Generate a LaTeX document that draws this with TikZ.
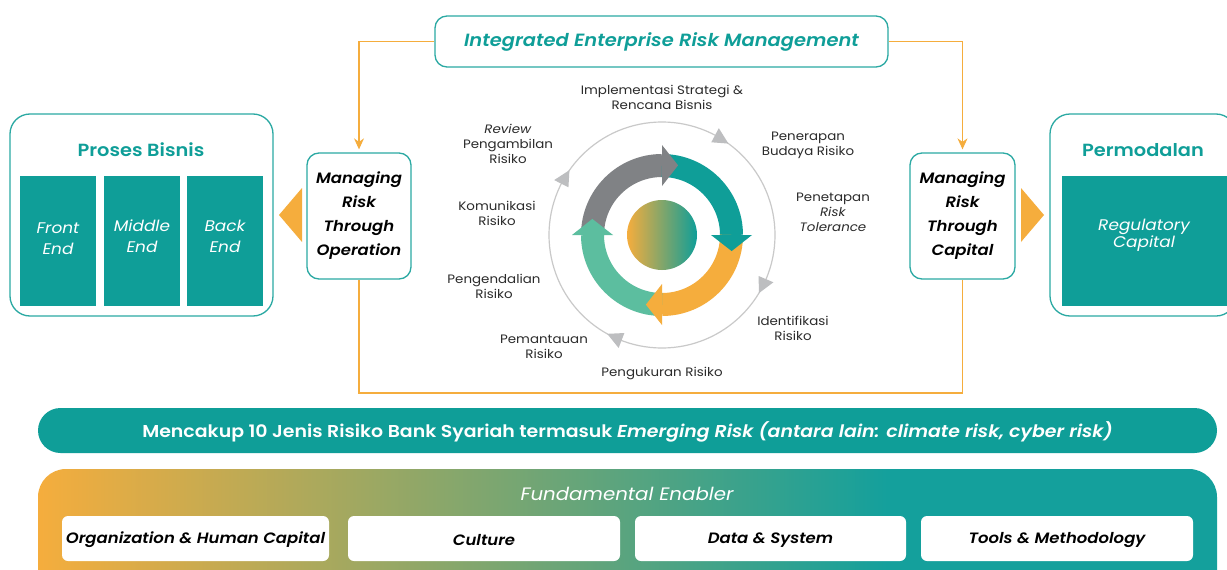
\documentclass[tikz,border=0pt]{standalone}
\usepackage{fontspec}
\setmainfont{Poppins}[FakeStretch=1.1,BoldFont={Poppins SemiBold},BoldItalicFont={Poppins SemiBold Italic}]
\usetikzlibrary{arrows.meta}
\definecolor{teal1}{HTML}{0F9E98}
\definecolor{teal2}{HTML}{14A09C}
\definecolor{tealb}{HTML}{2BA9A3}
\definecolor{orng}{HTML}{F5AD3D}
\definecolor{gry}{HTML}{808285}
\definecolor{grn}{HTML}{5CBE9F}
\definecolor{lgry}{HTML}{BDBEC0}
\definecolor{circ}{HTML}{C9C9C9}
\definecolor{txt}{HTML}{2B2B2B}
\pgfdeclarehorizontalshading{enab}{100bp}{color(0bp)=(orng); color(25bp)=(orng); color(61bp)=(teal2); color(100bp)=(teal2)}
\tikzset{
  obox/.style={draw=tealb, line width=1.3pt, rounded corners=20pt, fill=white, inner sep=0pt},
  mbox/.style={draw=tealb, line width=1.3pt, rounded corners=12pt, fill=white, align=center, inner sep=0pt, text=black, font=\fontsize{15}{24}\selectfont\bfseries\itshape},
  tbox/.style={fill=teal1, inner sep=0pt, align=center, text=white, font=\fontsize{15.4}{21}\selectfont\itshape},
  ttl/.style={text=teal1, font=\fontsize{17.6}{20}\selectfont\bfseries},
  clab/.style={align=center, text=txt, font=\fontsize{12.2}{15}\selectfont},
  oline/.style={draw=orng, line width=1.1pt},
  ebox/.style={fill=white, rounded corners=6pt, minimum height=45pt, inner sep=0pt, text=black, font=\fontsize{15}{18}\selectfont\bfseries\itshape},
  ring/.style={line width=23pt},
}
\begin{document}
\begin{tikzpicture}[x=1pt,y=-1pt]
\useasboundingbox (0,0) rectangle (1227,570);
\clip (0,0) rectangle (1227,570);
\fill[white] (0,0) rectangle (1227,570);

% top box
\node[mbox, minimum width=453pt, minimum height=51pt, text=teal1, font=\fontsize{17.7}{20}\selectfont\bfseries\itshape] (ierm) at (661.5,41.5) {Integrated Enterprise Risk Management};

% managing boxes
\node[mbox, minimum width=104pt, minimum height=126pt] (mrto) at (359,216) {Managing\\Risk\\Through\\Operation};
\node[mbox, minimum width=105pt, minimum height=126pt] (mrtc) at (962.5,216) {Managing\\Risk\\Through\\Capital};

% orange connectors
\draw[oline, -{Stealth[length=11pt,width=10pt]}, shorten >=3pt] (ierm.west) -| (mrto.north);
\draw[oline, -{Stealth[length=11pt,width=10pt]}, shorten >=3pt] (ierm.east) -| (mrtc.north);
\coordinate (bl) at (359,393);
\draw[oline] (mrto.south) -- (bl) -| (mrtc.south);

% Proses Bisnis
\node[obox, minimum width=263pt, minimum height=202pt] (pb) at (141.5,215) {};
\node[ttl] (pbt) at (141,150) {Proses Bisnis};
\node[tbox, minimum width=76pt, minimum height=130pt] (fe) at (58,241) {};
\node[tbox, minimum width=76pt, minimum height=130pt] (me) at (142,241) {};
\node[tbox, minimum width=76pt, minimum height=130pt] (be) at (225,241) {};
\node[tbox, fill=none] (fet1) at (58,238.5) {Front\\End};
\node[tbox, fill=none] (met1) at (142,236.5) {Middle\\End};
\node[tbox, fill=none] (bet1) at (225,236.5) {Back\\End};
\fill[orng] (302,188) -- (279,215) -- (302,242) -- cycle;

% Permodalan
\node[obox, minimum width=186pt, minimum height=202pt] (pm) at (1143,215) {};
\node[ttl] (pmt) at (1143,150) {Permodalan};
\node[tbox, minimum width=168pt, minimum height=130pt] (rc) at (1146,241) {};
\node[text=white, align=center, font=\fontsize{15.4}{17}\selectfont\itshape] (rct) at (1144,235.5) {Regulatory\\Capital};
\fill[orng] (1021,188) -- (1044,215) -- (1021,242) -- cycle;

% cycle
\begin{scope}[shift={(662,235)}, x=1pt, y=1pt]
  \draw[circ, line width=1.2pt] (0,0) circle[radius=113];
  \foreach \a in {58,-27,-115,149}{
    \fill[lgry] (\a+4:105) -- (\a+4:121) -- (\a-4:113) -- cycle;
  }
  \draw[ring, gry] (180:69.5) arc[start angle=180, end angle=90, radius=69.5];
  \draw[ring, teal1] (90:69.5) arc[start angle=90, end angle=0, radius=69.5];
  \draw[ring, orng] (0:69.5) arc[start angle=0, end angle=-90, radius=69.5];
  \draw[ring, grn] (-90:69.5) arc[start angle=-90, end angle=-180, radius=69.5];
  \fill[gry] (90:49) -- (90:90) -- (77:71.5) -- cycle;
  \fill[teal1] (0:49) -- (0:90) -- (-13:71.5) -- cycle;
  \fill[orng] (-90:49) -- (-90:90) -- (-103:71.5) -- cycle;
  \fill[grn] (180:49) -- (180:90) -- (167:71.5) -- cycle;
  \shade[left color=orng, right color=teal1] (0,0) circle[radius=35];
\end{scope}

% cycle labels
\node[clab] (l1) at (662,97) {Implementasi Strategi \&\\Rencana Bisnis};
\node[clab] (l2) at (808,145) {Penerapan\\Budaya Risiko};
\node[clab] (l3) at (833,212) {Penetapan\\\textit{Risk}\\\textit{Tolerance}};
\node[clab] (l4) at (793,328) {Identifikasi\\Risiko};
\node[clab] (l5) at (662,374) {Pengukuran Risiko};
\node[clab] (l6) at (544,347) {Pemantauan\\Risiko};
\node[clab] (l7) at (494,286) {Pengendalian\\Risiko};
\node[clab] (l8) at (497,213) {Komunikasi\\Risiko};
\node[clab] (l9) at (508,144) {\textit{Review}\\Pengambilan\\Risiko};

% risk bar
\node[fill=teal1, rounded corners=22.5pt, minimum width=1179pt, minimum height=45pt, inner sep=0pt] (bar) at (627.5,430.5) {};
\node[text=white, inner sep=0pt, font=\fontsize{17.2}{20}\selectfont\bfseries] (bart) at (627.5,432) {Mencakup 10 Jenis Risiko Bank Syariah termasuk \textit{Emerging Risk (antara lain: climate risk, cyber risk)}};

% enabler
\shade[shading=enab, rounded corners=28pt] (38,469) rectangle (1217,610);
\node[text=white, font=\fontsize{18}{20}\selectfont\itshape] (fet) at (627,494) {Fundamental Enabler};
\node[ebox, minimum width=267pt] (e1) at (195.5,538.5) {};
\node[ebox, minimum width=272pt] (e2) at (484,538.5) {};
\node[ebox, minimum width=271pt] (e3) at (770.5,538.5) {};
\node[ebox, minimum width=272pt] (e4) at (1057,538.5) {};
\node[ebox, fill=none] (e1t) at (195.5,540) {Organization \& Human Capital};
\node[ebox, fill=none] (e2t) at (484,540) {Culture};
\node[ebox, fill=none] (e3t) at (770.5,540) {Data \& System};
\node[ebox, fill=none] (e4t) at (1057,540) {Tools \& Methodology};
\end{tikzpicture}
\end{document}
